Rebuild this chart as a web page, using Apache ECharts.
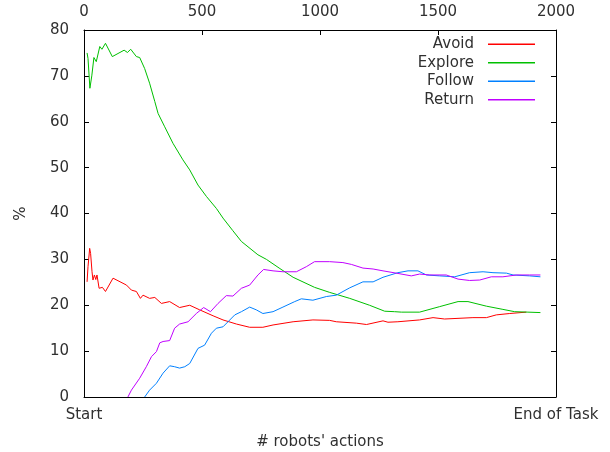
<!DOCTYPE html>
<html>
<head>
<meta charset="utf-8">
<script src="https://cdn.jsdelivr.net/npm/echarts@6/dist/echarts.min.js"></script>
<style>
html,body{margin:0;padding:0;background:#fff;}
#chart{width:610px;height:452px;}
</style>
</head>
<body>
<div id="chart"></div>
<script>
var seriesNames = ['Avoid', 'Explore', 'Follow', 'Return'];
var bottomTickLabels = ['Start', 'End of Task'];
var topTicks = [0, 500, 1000, 1500, 2000];

var avoid = [[13,25.1],[17,28.4],[24,32.4],[28,31.3],[34,27.3],[38,25.5],[44,26.6],[50,25.6],[55,26.6],[64,23.7],[78,23.9],[91,23],[123,25.9],[180,24.4],[186,24.8],[201,23.3],[222,23],[239,21.5],[250,22.2],[278,21.5],[300,21.7],[328,20.4],[363,20.8],[405,19.5],[448,20],[490,19],[547,17.7],[589,16.8],[646,15.9],[702,15.2],[758,15.2],[801,15.7],[886,16.4],[970,16.8],[1041,16.7],[1069,16.4],[1154,16.1],[1197,15.8],[1267,16.6],[1288,16.3],[1330,16.4],[1422,16.8],[1479,17.3],[1528,17],[1648,17.3],[1705,17.3],[1747,17.9],[1804,18.2],[1874,18.5]];

var explore = [[13,75.0],[17,73.8],[25,67.3],[33,70],[42,74],[52,73.1],[67,76.4],[76,75.8],[91,77.1],[120,74.2],[170,75.6],[184,75.1],[198,75.8],[222,74.2],[236,74],[257,71.6],[278,68.4],[300,64.4],[314,61.8],[342,58.9],[377,55.3],[419,51.7],[448,49.5],[483,46.2],[519,43.7],[561,41.1],[589,39],[630,36.3],[667,33.9],[737,31],[773,30],[830,28],[886,26.1],[977,23.9],[1041,22.8],[1126,21.5],[1210,20],[1274,18.7],[1316,18.6],[1345,18.5],[1422,18.5],[1507,19.7],[1585,20.8],[1627,20.8],[1705,19.8],[1775,19.1],[1825,18.6],[1881,18.5],[1934,18.4]];

var follow = [[257,0],[278,1.5],[307,3],[335,5.2],[363,6.8],[384,6.6],[405,6.3],[427,6.6],[448,7.3],[483,10.6],[511,11.3],[540,13.9],[561,15],[589,15.3],[639,17.9],[667,18.6],[702,19.6],[730,19],[758,18.2],[801,18.6],[843,19.6],[893,20.8],[921,21.4],[970,21.1],[1027,21.9],[1069,22.2],[1126,23.8],[1182,25.1],[1225,25.1],[1267,26.1],[1330,27.1],[1373,27.5],[1415,27.5],[1451,26.6],[1507,26.4],[1571,26.2],[1634,27.1],[1691,27.3],[1733,27.1],[1790,27],[1818,26.6],[1888,26.4],[1934,26.2]];

var returnData = [[186,0],[201,1.5],[236,4.1],[264,6.6],[286,8.8],[307,9.9],[321,11.8],[335,12.1],[363,12.3],[384,15],[405,15.9],[441,16.4],[476,18.2],[507,19.5],[536,18.6],[568,20.4],[603,22.1],[631,22],[667,23.7],[702,24.4],[737,26.6],[761,27.8],[801,27.5],[843,27.3],[900,27.3],[942,28.4],[977,29.5],[1041,29.5],[1097,29.3],[1133,28.9],[1182,28.1],[1225,27.9],[1267,27.5],[1323,27],[1387,26.4],[1422,26.8],[1465,26.6],[1535,26.6],[1585,25.7],[1634,25.4],[1677,25.5],[1726,26.2],[1775,26.2],[1832,26.6],[1888,26.6],[1934,26.6]];

var colors = ['#ff0000', '#00c000', '#0080ff', '#c000ff'];
var FONT = 'DejaVu Sans';
var FS = 15;
var TXT = '#303030';

var chart = echarts.init(document.getElementById('chart'), null, {renderer: 'canvas'});
var axisLineStyle = {show: true, onZero: false, lineStyle: {color: '#000', width: 1}};
var inTick = {show: true, inside: true, length: 5, lineStyle: {color: '#000'}};

function mkLine(name, data, color) {
  return {
    name: name, type: 'line', data: data, xAxisIndex: 0, yAxisIndex: 0,
    showSymbol: false, symbol: 'none', color: color,
    lineStyle: {color: color, width: 1}, animation: false
  };
}

chart.setOption({
  animation: false,
  backgroundColor: '#fff',
  textStyle: {fontFamily: FONT},
  grid: {left: 84, right: 54, top: 30, bottom: 55, outerBoundsMode: 'none', containLabel: false},
  legend: {
    data: seriesNames, orient: 'vertical', right: 70, top: 30, align: 'right',
    icon: 'rect', itemWidth: 47, itemHeight: 1.3, itemGap: 0,
    textStyle: {fontFamily: FONT, fontSize: FS, color: TXT, lineHeight: 18.5, padding: [0, 9, 0, 0]},
    selectedMode: false
  },
  xAxis: [
    {
      type: 'value', position: 'bottom', min: 0, max: 2000, interval: 2000,
      axisLine: axisLineStyle, axisTick: {show: false}, splitLine: {show: false},
      axisLabel: {
        fontFamily: FONT, fontSize: FS, color: TXT, margin: 11,
        formatter: function (v) { return v === 0 ? bottomTickLabels[0] : bottomTickLabels[1]; }
      },
      name: "# robots' actions", nameLocation: 'middle', nameGap: 38,
      nameTextStyle: {fontFamily: FONT, fontSize: FS, color: TXT}
    },
    {
      type: 'value', position: 'top', min: topTicks[0], max: topTicks[topTicks.length - 1], interval: 500,
      axisLine: axisLineStyle, axisTick: inTick,
      splitLine: {show: false},
      axisLabel: {fontFamily: FONT, fontSize: FS, color: TXT, margin: 10,
        formatter: function (v) { return String(v); }}
    }
  ],
  yAxis: [
    {
      type: 'value', position: 'left', min: 0, max: 80, interval: 10,
      axisLine: axisLineStyle, axisTick: inTick,
      splitLine: {show: false},
      axisLabel: {fontFamily: FONT, fontSize: FS, color: TXT, margin: 15},
      name: '%', nameLocation: 'middle', nameGap: 55, nameRotate: 90,
      nameTextStyle: {fontFamily: FONT, fontSize: FS, color: TXT}
    },
    {
      type: 'value', position: 'right', min: 0, max: 80, interval: 10,
      axisLine: axisLineStyle, axisTick: inTick,
      splitLine: {show: false}, axisLabel: {show: false}
    }
  ],
  series: [
    mkLine(seriesNames[0], avoid, colors[0]),
    mkLine(seriesNames[1], explore, colors[1]),
    mkLine(seriesNames[2], follow, colors[2]),
    mkLine(seriesNames[3], returnData, colors[3])
  ]
});
</script>
</body>
</html>
